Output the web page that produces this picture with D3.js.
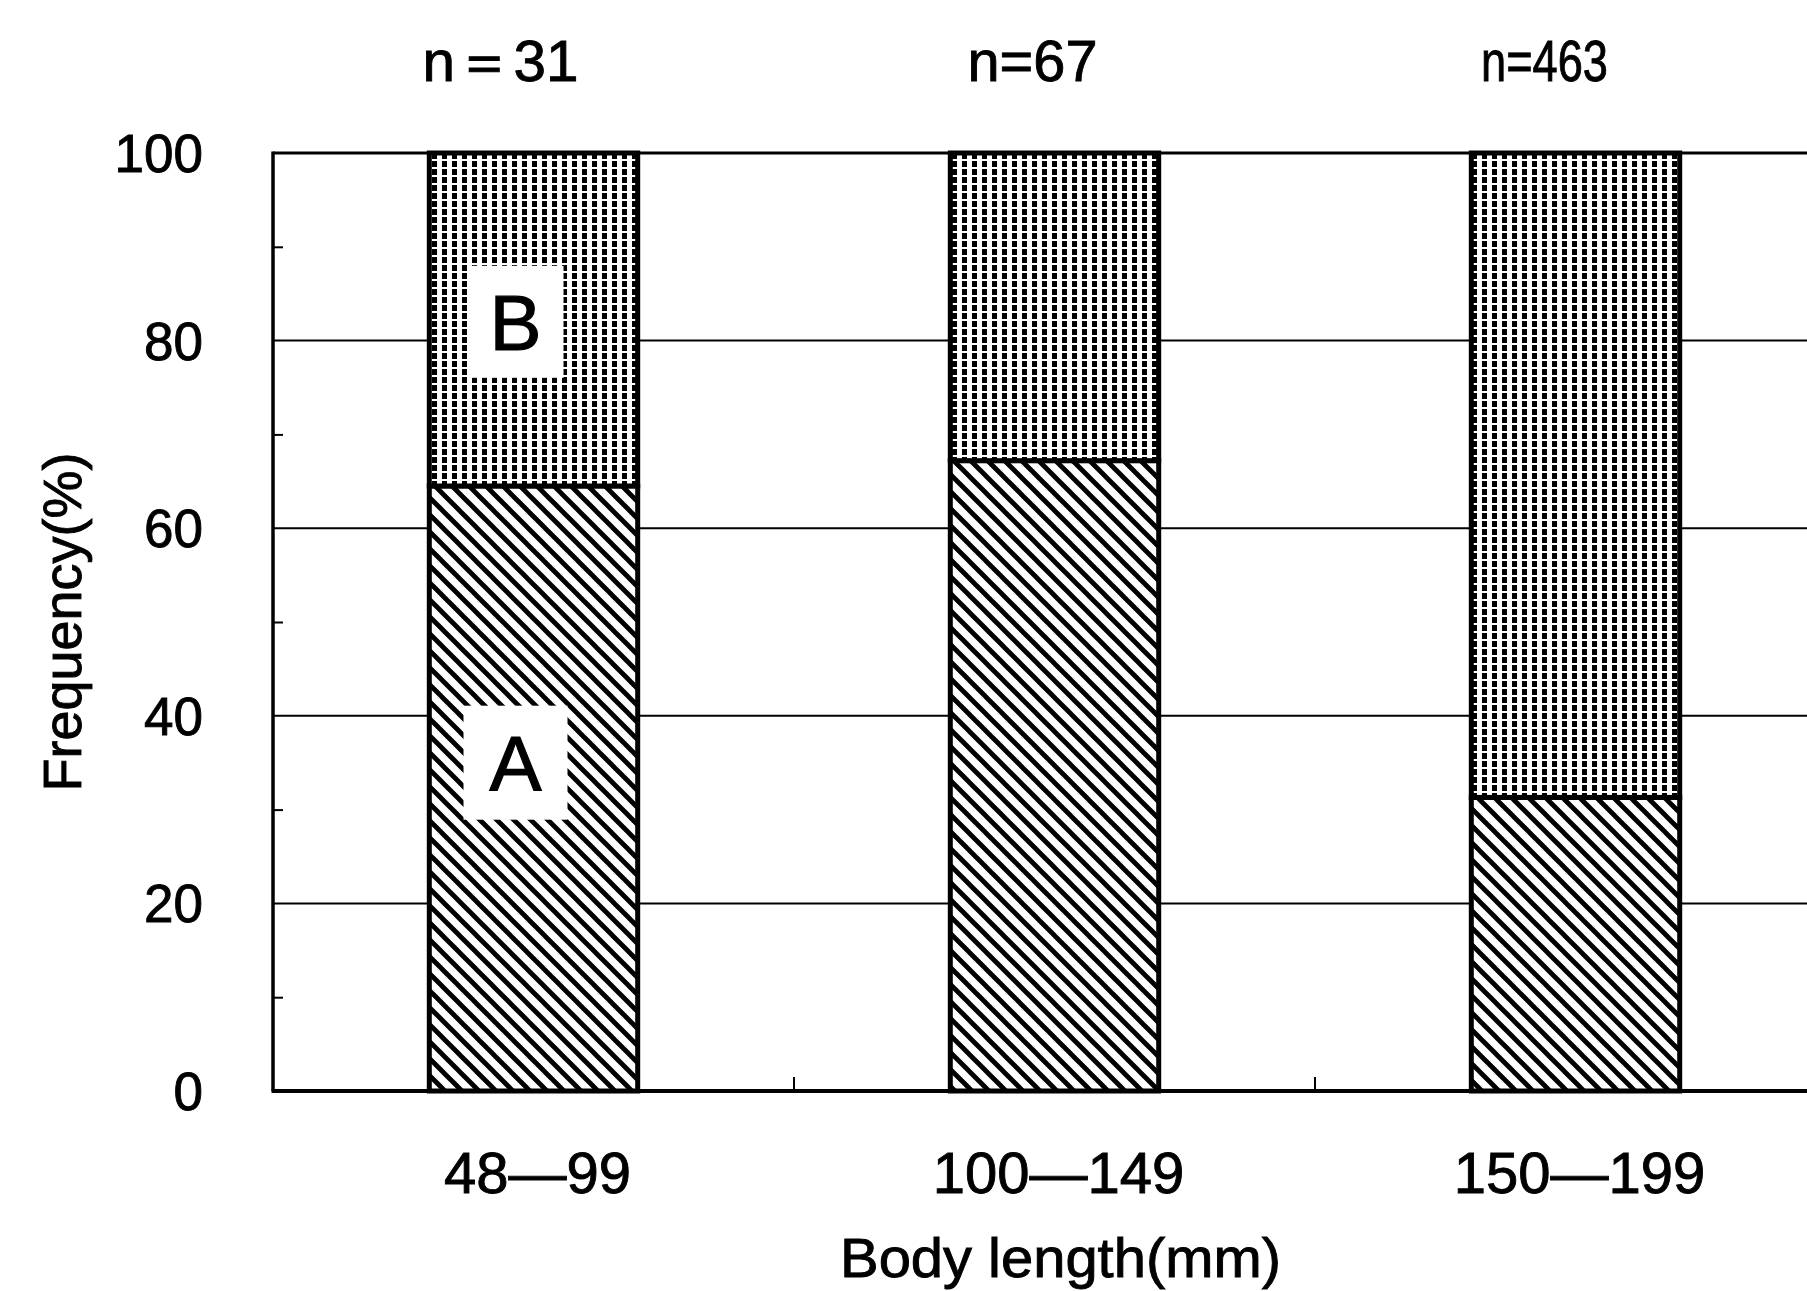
<!DOCTYPE html>
<html>
<head>
<meta charset="utf-8">
<script src="https://cdn.jsdelivr.net/npm/d3@7"></script>
<style>
  html, body { margin: 0; padding: 0; background: #fff; }
  svg { display: block; }
  text { font-family: "Liberation Sans", Arial, sans-serif; fill: #000; stroke: #000; stroke-width: 0.9px; }
</style>
</head>
<body>
<svg id="chart" width="1807" height="1291"></svg>
<script>
// ---- data ----
const categories = ["48\u201499", "100\u2014149", "150\u2014199"];
const sampleSizes = ["n\uFF1D31", "n=67", "n=463"];
const seriesA = [64.5, 67.2, 31.3];   // % type A (hatched)
const seriesB = [35.5, 32.8, 68.7];   // % type B (stippled)
const yTicks = [0, 20, 40, 60, 80, 100];
const yMinorTicks = [10, 30, 50, 70, 90];
const xTitle = "Body length(mm)";
const yTitle = "Frequency(%)";

(function () {
// ---- layout ----
const W = 1807, H = 1291;
const mLeft = 273, mTop = 153, mBottom = 1091;
const stepPx = 521;
const svg = d3.select("#chart");
svg.append("rect").attr("width", W).attr("height", H).attr("fill", "#fff");

const x = d3.scaleBand().domain(categories)
  .range([mLeft, mLeft + stepPx * categories.length])
  .paddingInner(0.6).paddingOuter(0.3);
const y = d3.scaleLinear().domain([0, 100]).range([mBottom, mTop]);

// patterns
const defs = svg.append("defs");
const hp = 17;
const hatch = defs.append("pattern").attr("id", "hatchA")
  .attr("patternUnits", "userSpaceOnUse").attr("width", hp).attr("height", hp);
hatch.append("rect").attr("width", hp).attr("height", hp).attr("fill", "#fff");
hatch.append("path").attr("d", `M-4,-4 L${hp + 4},${hp + 4} M-4,${hp - 4} L4,${hp + 4} M${hp - 4},-4 L${hp + 4},4`)
  .attr("stroke", "#000").attr("stroke-width", 4.8);

const dots = defs.append("pattern").attr("id", "dotsB")
  .attr("patternUnits", "userSpaceOnUse").attr("width", 10).attr("height", 8);
dots.append("rect").attr("width", 10).attr("height", 8).attr("fill", "#fff");
dots.append("rect").attr("x", 2).attr("y", 1).attr("width", 5).attr("height", 6).attr("fill", "#000");

// gridlines
svg.append("g").selectAll("line").data(yTicks.filter(d => d > 0 && d < 100)).join("line")
  .attr("x1", mLeft).attr("x2", W).attr("y1", d => y(d)).attr("y2", d => y(d))
  .attr("stroke", "#000").attr("stroke-width", 2);

// top frame line
svg.append("line").attr("x1", mLeft).attr("x2", W).attr("y1", y(100)).attr("y2", y(100))
  .attr("stroke", "#000").attr("stroke-width", 3);

// y axis with minor ticks (inward)
const yAxis = d3.axisRight(y).tickValues(yMinorTicks).tickSize(10).tickFormat("");
const gy = svg.append("g").attr("transform", `translate(${mLeft},0)`).call(yAxis);
gy.select(".domain").attr("stroke", "#000").attr("stroke-width", 3.5).attr("d", `M0,${y(100) - 1.5}V${y(0)}`);
gy.selectAll(".tick line").attr("stroke", "#000").attr("stroke-width", 2);

// y tick labels
svg.append("g").selectAll("text").data(yTicks).join("text")
  .attr("x", 203).attr("y", d => y(d)).attr("dy", "0.36em")
  .attr("text-anchor", "end").attr("font-size", 53).text(d => d);

// bottom axis line
svg.append("line").attr("x1", mLeft - 1.5).attr("x2", W).attr("y1", mBottom).attr("y2", mBottom)
  .attr("stroke", "#000").attr("stroke-width", 4);

// category separator ticks (upward)
const seps = categories.slice(1).map(c => x(c) - x.step() * x.paddingInner() / 2);
svg.append("g").selectAll("line").data(seps).join("line")
  .attr("x1", d => d).attr("x2", d => d).attr("y1", mBottom).attr("y2", mBottom - 14)
  .attr("stroke", "#000").attr("stroke-width", 2);

// bars
const rows = categories.map((c, i) => ({ c, a: seriesA[i], b: seriesB[i] }));
const gb = svg.append("g");
gb.selectAll("rect.a").data(rows).join("rect").attr("class", "a")
  .attr("x", d => x(d.c)).attr("width", x.bandwidth())
  .attr("y", d => y(d.a)).attr("height", d => y(0) - y(d.a))
  .attr("fill", "url(#hatchA)").attr("stroke", "#000").attr("stroke-width", 5);
gb.selectAll("rect.b").data(rows).join("rect").attr("class", "b")
  .attr("x", d => x(d.c)).attr("width", x.bandwidth())
  .attr("y", d => y(d.a + d.b)).attr("height", d => y(d.a) - y(d.a + d.b))
  .attr("fill", "url(#dotsB)").attr("stroke", "#000").attr("stroke-width", 5);

// A / B labels in the first bar
const c0 = x(categories[0]) + x.bandwidth() / 2 - 18;
[["B", 82, 96, 112], ["A", 35, 104, 114]].forEach(([t, v, bw, bh]) => {
  svg.append("rect").attr("x", c0 - bw / 2).attr("y", y(v) - bh / 2)
    .attr("width", bw).attr("height", bh).attr("fill", "#fff");
  svg.append("text").attr("x", c0).attr("y", y(v)).attr("dy", "0.36em")
    .attr("text-anchor", "middle").attr("font-size", 78).style("stroke-width", "1.2px").text(t);
});

// sample sizes above
const nOffsets = [-33, -22, -31];
const nLengths = [156, 130, 127];
svg.append("g").selectAll("text").data(sampleSizes).join("text")
  .attr("x", (d, i) => x(categories[i]) + x.bandwidth() / 2 + nOffsets[i])
  .attr("y", 81).attr("text-anchor", "middle").attr("font-size", 58)
  .attr("textLength", (d, i) => nLengths[i]).attr("lengthAdjust", "spacingAndGlyphs")
  .text(d => d);

// x tick labels
svg.append("g").selectAll("text").data(categories).join("text")
  .attr("x", d => x(d) + x.bandwidth() / 2 + 4).attr("y", 1193)
  .attr("text-anchor", "middle").attr("font-size", 58).text(d => d);

// axis titles
svg.append("text").attr("x", x(categories[1]) + x.bandwidth() / 2 + 6).attr("y", 1277)
  .attr("text-anchor", "middle").attr("font-size", 56)
  .attr("textLength", 441).attr("lengthAdjust", "spacingAndGlyphs").text(xTitle);
svg.append("text").attr("transform", `translate(81,${(mTop + mBottom) / 2}) rotate(-90)`)
  .attr("text-anchor", "middle").attr("font-size", 54).text(yTitle);
})();
</script>
</body>
</html>
